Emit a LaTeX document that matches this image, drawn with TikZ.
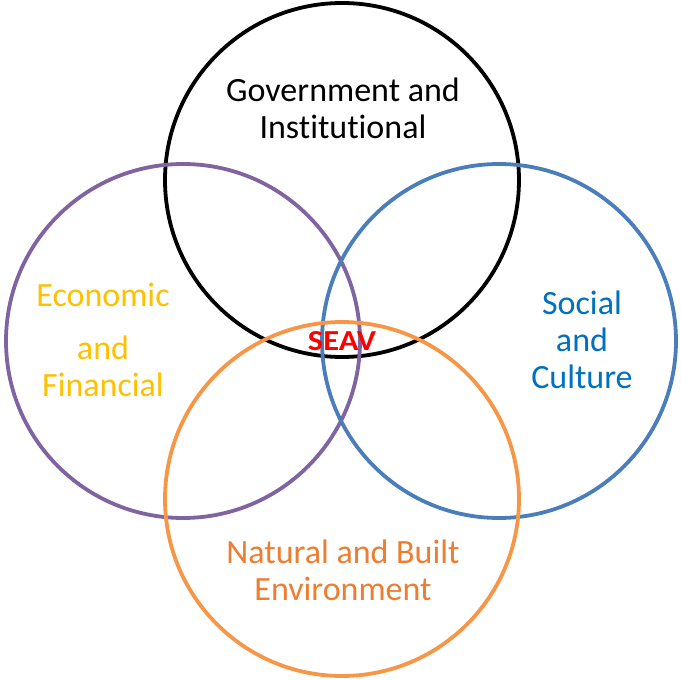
\documentclass[tikz,border=0pt]{standalone}
\usepackage{fontspec}
\setmainfont{Carlito}[Ligatures=NoCommon]
\definecolor{cpurple}{HTML}{8064A2}
\definecolor{cblue}{HTML}{4A7EBB}
\definecolor{corange}{HTML}{F79646}
\definecolor{tgold}{HTML}{FFC000}
\definecolor{tblue}{HTML}{0070C0}
\definecolor{torange}{HTML}{ED7D31}
\begin{document}
\begin{tikzpicture}[x=1pt,y=-1pt,
  ring/.style={draw,line width=3.8pt,circle,minimum size=354pt,inner sep=0pt},
  lbl/.style={font=\fontsize{34}{37}\selectfont,align=center}]
\useasboundingbox (0,0) rectangle (681,680);
\node[ring,draw=black] (gov) at (342,180) {};
\node[ring,draw=cpurple] (eco) at (183,341) {};
\node[ring,draw=cblue] (soc) at (499,341) {};
\node[ring,draw=corange] (nat) at (342,499) {};
\node[lbl] (govt) at (343,108) {Government and\\Institutional};
\node[lbl,text=tgold] (ecot) at (103,340) {Economic\\[16pt]and\\Financial};
\node[lbl,text=tblue] (soct) at (582,340) {Social\\and\\Culture};
\node[lbl,text=torange] (natt) at (343,570) {Natural and Built\\Environment};
\node[font=\fontsize{29}{30}\selectfont\bfseries,text=red] (seav) at (342,341) {\scalebox{1.12}[1]{SEAV}};
\end{tikzpicture}
\end{document}
